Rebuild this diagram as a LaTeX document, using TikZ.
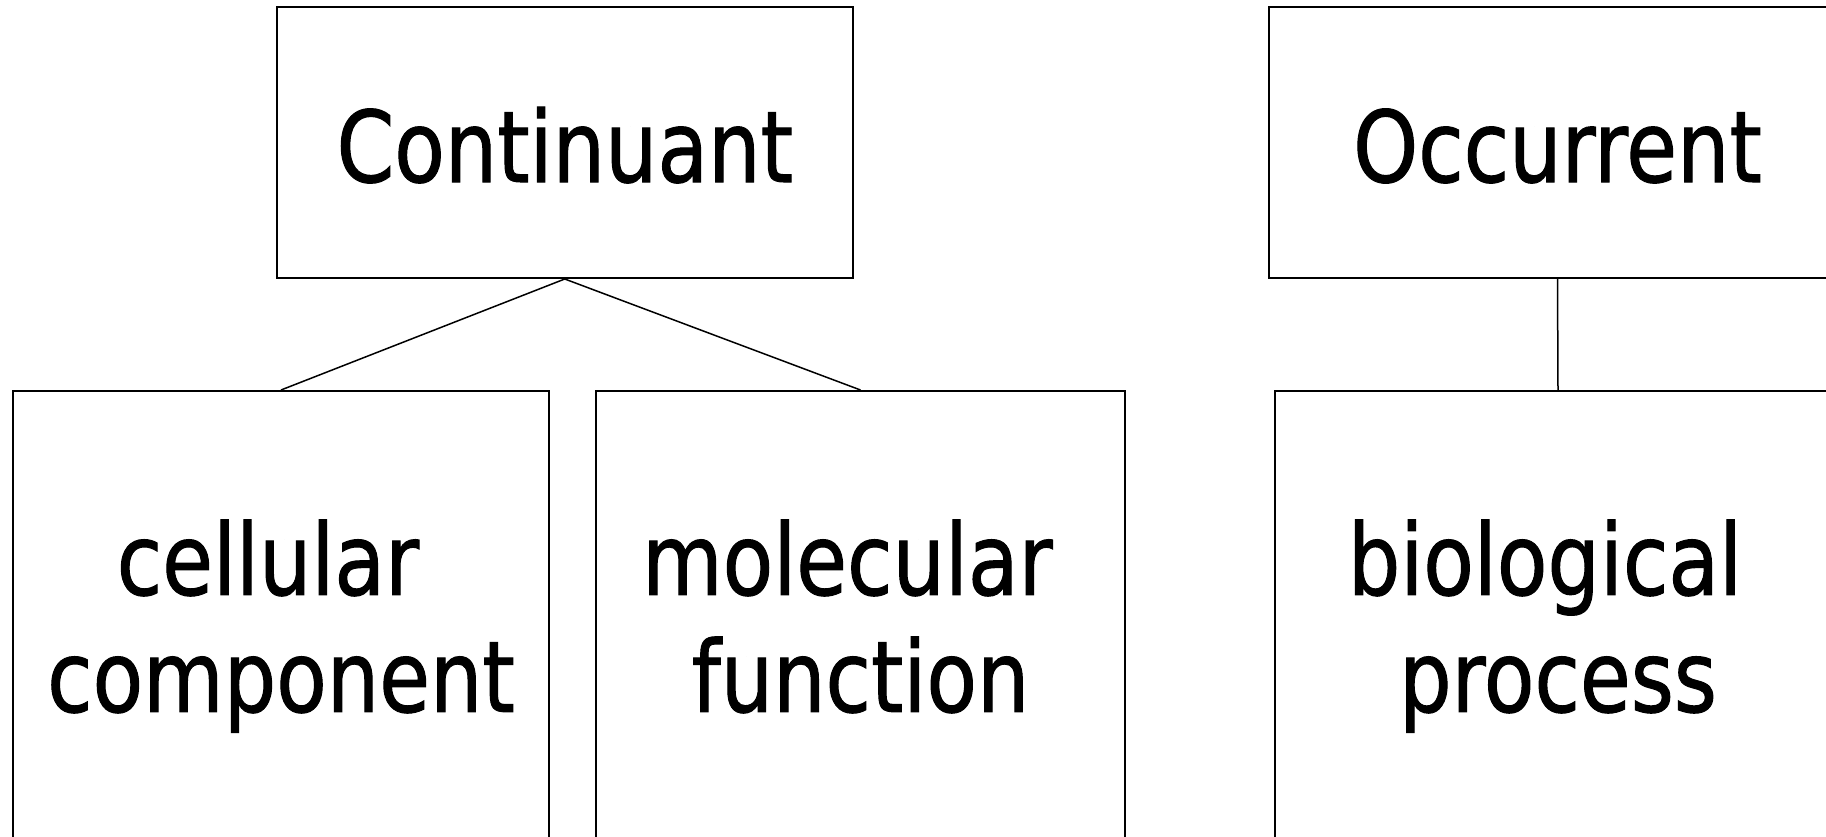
\documentclass[tikz,border=0pt]{standalone}
\usepackage{fontspec}
\setmainfont{DejaVu Sans}[FakeStretch=0.835, FakeBold=1]

\begin{document}
\begin{tikzpicture}[x=1pt, y=-1pt,
    every node/.style={draw, line width=2pt, align=center, font=\fontsize{99}{117}\selectfont},
    topbox/.style={minimum width=576.5pt, minimum height=271pt, text height=79pt, text depth=0pt},
    subbox/.style={minimum height=478pt},
    link/.style={line width=1.5pt}]
    \useasboundingbox (0, 0) rectangle (1826, 836);
    \clip (0, 0) rectangle (1826, 836);

    \node[topbox] (cont) at (564.75, 142.5) {Continuant};
    \node[topbox] (occ) at (1557.5, 142.5) {Occurrent};

    \node[subbox, minimum width=536pt] (cell) at (281, 630) {\strut cellular\hphantom{\ }\\component\strut};
    \node[subbox, minimum width=529pt] (mol) at (860.5, 630) {\strut molecular\hphantom{\ }\\function\strut};
    \node[subbox, minimum width=566pt] (bio) at (1558, 630) {\strut biological\hphantom{\ }\\process\strut};

    \draw[link] (cont.south) -- (cell.north);
    \draw[link] (cont.south) -- (mol.north);
    \draw[link] (occ.south) -- (bio.north);
\end{tikzpicture}
\end{document}
